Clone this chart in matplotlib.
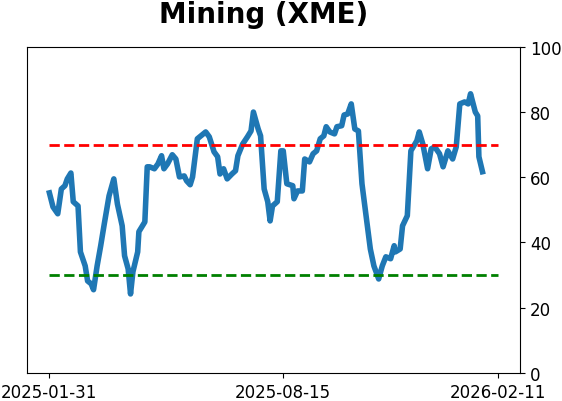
import matplotlib.pyplot as plt
import matplotlib.dates as mdates
import numpy as np

# Indicator readings
dates = [
    '2025-01-31', '2025-02-03', '2025-02-07', '2025-02-10', '2025-02-13', '2025-02-15',
    '2025-02-18', '2025-02-20', '2025-02-24', '2025-02-26', '2025-03-02', '2025-03-04',
    '2025-03-07', '2025-03-09', '2025-03-12', '2025-03-15', '2025-03-18', '2025-03-22',
    '2025-03-26', '2025-03-29', '2025-04-02', '2025-04-04', '2025-04-07', '2025-04-09',
    '2025-04-11', '2025-04-15', '2025-04-16', '2025-04-21', '2025-04-23', '2025-04-25',
    '2025-04-29', '2025-05-02', '2025-05-05', '2025-05-07', '2025-05-10', '2025-05-14',
    '2025-05-17', '2025-05-20', '2025-05-24', '2025-05-26', '2025-05-29', '2025-05-31',
    '2025-06-04', '2025-06-08', '2025-06-11', '2025-06-14', '2025-06-18', '2025-06-21',
    '2025-06-23', '2025-06-26', '2025-06-29', '2025-07-03', '2025-07-06', '2025-07-08',
    '2025-07-12', '2025-07-16', '2025-07-19', '2025-07-21', '2025-07-25', '2025-07-27',
    '2025-07-30', '2025-08-02', '2025-08-04', '2025-08-06', '2025-08-10', '2025-08-13',
    '2025-08-15', '2025-08-18', '2025-08-23', '2025-08-24', '2025-08-27', '2025-08-31',
    '2025-09-02', '2025-09-06', '2025-09-09', '2025-09-12', '2025-09-15', '2025-09-18',
    '2025-09-20', '2025-09-23', '2025-09-27', '2025-09-29', '2025-10-03', '2025-10-05',
    '2025-10-08', '2025-10-11', '2025-10-14', '2025-10-17', '2025-10-20', '2025-10-23',
    '2025-10-27', '2025-10-30', '2025-11-03', '2025-11-06', '2025-11-09', '2025-11-13',
    '2025-11-16', '2025-11-17', '2025-11-21', '2025-11-23', '2025-11-27', '2025-11-30',
    '2025-12-05', '2025-12-07', '2025-12-10', '2025-12-14', '2025-12-17', '2025-12-20',
    '2025-12-24', '2025-12-27', '2025-12-31', '2026-01-04', '2026-01-07', '2026-01-10',
    '2026-01-14', '2026-01-17', '2026-01-19', '2026-01-23', '2026-01-25', '2026-01-26',
    '2026-01-29',
]
values = [
    55.2, 50.9, 48.8, 56.4, 57.4, 59.5,
    61.3, 52.5, 51.2, 37.1, 32.8, 28.2,
    27.3, 25.5, 32.8, 39.0, 45.7, 54.3,
    59.5, 51.8, 45.1, 35.9, 31.9, 24.2,
    31.0, 37.1, 43.3, 46.3, 63.2, 63.2,
    62.6, 64.1, 66.6, 62.6, 64.1, 66.9,
    65.6, 60.1, 60.4, 58.9, 57.7, 60.1,
    71.8, 73.0, 73.9, 72.4, 67.8, 66.3,
    61.0, 62.6, 59.5, 61.0, 62.0, 66.6,
    70.2, 72.4, 74.2, 80.0, 74.8, 72.7,
    56.4, 52.5, 46.6, 51.2, 52.5, 68.1,
    68.1, 58.0, 57.4, 53.4, 55.8, 55.8,
    65.6, 64.7, 67.2, 68.1, 71.8, 72.7,
    75.5, 73.9, 73.3, 75.5, 75.8, 79.1,
    79.4, 82.5, 74.8, 74.2, 58.0, 49.4,
    38.0, 32.8, 28.8, 32.8, 35.6, 35.0,
    39.0, 37.1, 38.0, 45.1, 48.2, 68.1,
    71.2, 73.9, 70.2, 62.6, 68.7, 69.3,
    67.2, 63.2, 68.1, 65.6, 69.3, 82.5,
    83.1, 82.5, 85.6, 80.0, 78.8, 66.3,
    61.7,
]

# Reference levels and axis ticks
upper_level = 70
lower_level = 30
level_span = ['2025-01-31', '2026-02-11']
tick_dates = ['2025-01-31', '2025-08-15', '2026-02-11']
y_ticks = [0, 20, 40, 60, 80, 100]

dates = np.array(dates, dtype='datetime64[D]')
level_span = np.array(level_span, dtype='datetime64[D]')
tick_dates = np.array(tick_dates, dtype='datetime64[D]')

fig = plt.figure(figsize=(5.62, 4.02), dpi=100)
ax = fig.add_axes([0.048, 0.070, 0.878, 0.811])

ax.plot(dates, values, color='#1f77b4', linewidth=4)
ax.plot(level_span, [upper_level, upper_level], color='red', linestyle='--', linewidth=2)
ax.plot(level_span, [lower_level, lower_level], color='green', linestyle='--', linewidth=2)

ax.set_ylim(0, 100)
ax.set_yticks(y_ticks)
ax.yaxis.tick_right()
ax.set_xticks(tick_dates)
ax.xaxis.set_major_formatter(mdates.DateFormatter('%Y-%m-%d'))
ax.tick_params(labelsize=12)

ax.set_title('Mining (XME)', fontsize=20, fontweight='bold', pad=18, x=0.48)

plt.savefig('out.png', dpi=100)
